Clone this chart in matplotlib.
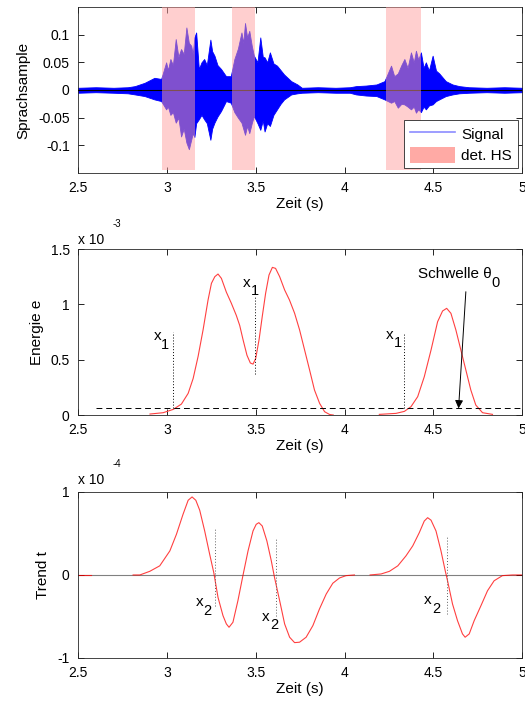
"""
Sprachsignal, Energie und Trend mit detektierten Bereichen (HS)
"""
import matplotlib
matplotlib.use("Agg")
import matplotlib.pyplot as plt
from matplotlib.lines import Line2D
from matplotlib.patches import Patch

plt.rcParams['font.family'] = ['Liberation Sans', 'DejaVu Sans']
plt.rcParams['mathtext.default'] = 'regular'

# Sprachsignal: obere / untere Einhuellende
sig_t = [2.50, 2.60, 2.70, 2.78, 2.82, 2.875, 2.93, 2.968, 2.996, 3.006, 3.02, 3.034,
         3.05, 3.065, 3.08, 3.095, 3.11, 3.124, 3.137, 3.146, 3.155, 3.165, 3.18, 3.195,
         3.21, 3.225, 3.245, 3.255, 3.268, 3.285, 3.305, 3.333, 3.36, 3.38, 3.40, 3.42,
         3.43, 3.44, 3.452, 3.464, 3.478, 3.49, 3.51, 3.526, 3.54, 3.55, 3.565, 3.58,
         3.60, 3.62, 3.64, 3.66, 3.70, 3.735, 3.76, 3.85, 3.95, 4.03, 4.065, 4.12,
         4.18, 4.225, 4.262, 4.28, 4.30, 4.32, 4.337, 4.355, 4.374, 4.39, 4.402, 4.415,
         4.43, 4.445, 4.458, 4.475, 4.496, 4.515, 4.533, 4.57, 4.608, 4.646, 4.70, 4.80,
         4.90, 5.00]
sig_hi = [0.004, 0.005, 0.004, 0.005, 0.007, 0.013, 0.022, 0.020, 0.050, 0.036, 0.056, 0.045,
          0.092, 0.060, 0.074, 0.065, 0.113, 0.085, 0.080, 0.065, 0.095, 0.104, 0.038, 0.050,
          0.056, 0.045, 0.091, 0.070, 0.062, 0.045, 0.038, 0.025, 0.025, 0.056, 0.075, 0.104,
          0.085, 0.121, 0.095, 0.107, 0.080, 0.062, 0.050, 0.095, 0.060, 0.059, 0.050, 0.068,
          0.048, 0.044, 0.036, 0.028, 0.016, 0.010, 0.004, 0.005, 0.004, 0.005, 0.007, 0.008,
          0.010, 0.016, 0.044, 0.025, 0.030, 0.045, 0.056, 0.040, 0.068, 0.050, 0.071, 0.055,
          0.068, 0.040, 0.050, 0.035, 0.062, 0.035, 0.030, 0.016, 0.010, 0.007, 0.005, 0.004,
          0.005, 0.004]
sig_lo = [-0.005, -0.004, -0.005, -0.006, -0.008, -0.011, -0.017, -0.020, -0.035, -0.030, -0.045, -0.040,
          -0.059, -0.050, -0.084, -0.070, -0.095, -0.107, -0.090, -0.078, -0.085, -0.060, -0.053, -0.045,
          -0.053, -0.060, -0.090, -0.070, -0.059, -0.048, -0.038, -0.020, -0.023, -0.040, -0.050, -0.059,
          -0.070, -0.081, -0.065, -0.078, -0.060, -0.047, -0.060, -0.072, -0.055, -0.075, -0.060, -0.065,
          -0.045, -0.035, -0.025, -0.017, -0.008, -0.006, -0.005, -0.004, -0.005, -0.005, -0.008, -0.010,
          -0.011, -0.017, -0.023, -0.020, -0.032, -0.025, -0.026, -0.030, -0.035, -0.030, -0.041, -0.035,
          -0.040, -0.030, -0.035, -0.028, -0.026, -0.020, -0.017, -0.011, -0.008, -0.006, -0.005, -0.004,
          -0.005, -0.004]

# detektierte HS-Bereiche (Start, Ende) in s
hs_start = [2.97, 3.369, 4.234]
hs_end = [3.157, 3.494, 4.43]

# Energie e (x 1e-3), zwei Abschnitte
e1_t = [2.905, 2.979, 3.036, 3.082, 3.12, 3.148, 3.176, 3.204, 3.232, 3.251, 3.27, 3.288,
        3.307, 3.335, 3.363, 3.391, 3.41, 3.429, 3.451, 3.47, 3.485, 3.50, 3.519, 3.537,
        3.556, 3.575, 3.594, 3.612, 3.635, 3.663, 3.69, 3.719, 3.747, 3.775, 3.803, 3.831,
        3.86, 3.888, 3.916, 3.937]
e1_v = [0.009, 0.021, 0.051, 0.099, 0.196, 0.33, 0.53, 0.77, 1.04, 1.19, 1.25, 1.274,
        1.235, 1.11, 1.01, 0.90, 0.81, 0.68, 0.54, 0.47, 0.46, 0.51, 0.68, 0.89,
        1.10, 1.265, 1.334, 1.325, 1.25, 1.13, 1.04, 0.92, 0.77, 0.59, 0.41, 0.226,
        0.105, 0.03, 0.005, 0.0]
e2_t = [4.196, 4.29, 4.337, 4.374, 4.412, 4.449, 4.487, 4.524, 4.552, 4.575, 4.599, 4.627,
        4.655, 4.683, 4.711, 4.739, 4.777, 4.833]
e2_v = [0.006, 0.015, 0.033, 0.075, 0.166, 0.346, 0.587, 0.843, 0.94, 0.964, 0.919, 0.768,
        0.587, 0.407, 0.226, 0.09, 0.021, 0.006]
schwelle = 0.06

# x1-Markierungen: Zeit, unten, oben
x1_t = [3.036, 3.494, 4.333]
x1_lo = [0.06, 0.37, 0.06]
x1_hi = [0.75, 1.07, 0.74]

# Trend t (x 1e-4), drei Abschnitte
t0_t = [2.5, 2.575]
t0_v = [0.0, 0.0]
t1_t = [2.81, 2.848, 2.904, 2.96, 3.017, 3.054, 3.091, 3.12, 3.142, 3.163, 3.185, 3.213,
        3.241, 3.264, 3.288, 3.316, 3.335, 3.35, 3.372, 3.40, 3.428, 3.457, 3.485, 3.503,
        3.518, 3.537, 3.563, 3.588, 3.606, 3.635, 3.663, 3.691, 3.719, 3.747, 3.784, 3.822,
        3.859, 3.897, 3.934, 3.972, 4.009, 4.056]
t1_v = [0.0, 0.0, 0.044, 0.11, 0.29, 0.49, 0.73, 0.90, 0.94, 0.90, 0.78, 0.53,
        0.25, 0.03, -0.27, -0.49, -0.59, -0.63, -0.57, -0.31, -0.01, 0.29, 0.53, 0.61,
        0.63, 0.59, 0.41, 0.17, -0.03, -0.31, -0.59, -0.75, -0.815, -0.81, -0.75, -0.61,
        -0.41, -0.23, -0.10, -0.036, -0.008, 0.0]
t2_t = [4.144, 4.206, 4.253, 4.30, 4.346, 4.384, 4.421, 4.449, 4.468, 4.487, 4.515, 4.543,
        4.567, 4.58, 4.608, 4.636, 4.664, 4.679, 4.702, 4.73, 4.768, 4.805, 4.842, 4.889,
        4.945, 5.0]
t2_v = [0.0, 0.012, 0.044, 0.11, 0.23, 0.35, 0.51, 0.65, 0.69, 0.66, 0.53, 0.29,
        0.05, -0.07, -0.35, -0.55, -0.71, -0.75, -0.71, -0.55, -0.37, -0.19, -0.07, -0.008,
        0.0, 0.0]

# x2-Markierungen
x2_t = [3.273, 3.616, 4.576]
x2_lo = [-0.37, -0.49, -0.47]
x2_hi = [0.57, 0.45, 0.47]

xticks = [2.5, 3, 3.5, 4, 4.5, 5]
xticklabels = ['2.5', '3', '3.5', '4', '4.5', '5']

AX_COLOR = '#262626'


def style_axes(ax):
    ax.set_xlim(2.5, 5)
    ax.set_xticks(xticks)
    ax.set_xticklabels(xticklabels)
    ax.tick_params(direction='in', length=4, width=0.6, top=True, right=True,
                   labelsize=10, colors='black', pad=6)
    for s in ax.spines.values():
        s.set_linewidth(0.6)
        s.set_color(AX_COLOR)
    ax.set_xlabel('Zeit (s)', fontsize=11, labelpad=1)


def sub_label(ax, x, y, base, sub):
    """MATLAB-artiger Index: base mit tief gestelltem sub"""
    t = ax.text(x, y, base, fontsize=11, va='baseline')
    ax.annotate(sub, xy=(1, 0), xycoords=t, xytext=(0.0, -4.2),
                textcoords='offset points', fontsize=10.5, va='baseline')


def main():
    fig = plt.figure(figsize=(5.25, 7.05), dpi=100)
    ax1 = fig.add_axes([0.1486, 0.7546, 0.846, 0.2355])
    ax2 = fig.add_axes([0.1486, 0.4113, 0.846, 0.2355])
    ax3 = fig.add_axes([0.1486, 0.0667, 0.846, 0.2355])

    # 1. Sprachsignal
    ax1.fill_between(sig_t, sig_lo, sig_hi, color='#0000ff', lw=0.6, zorder=2)
    ax1.axhline(0, color='black', lw=0.8, zorder=3)
    for a, b in zip(hs_start, hs_end):
        ax1.fill_between([a, b], -0.145, 0.15, color='#ffa1a1', alpha=0.5,
                         lw=0, zorder=4)
    style_axes(ax1)
    ax1.set_ylim(-0.15, 0.15)
    ax1.set_yticks([-0.1, -0.05, 0, 0.05, 0.1])
    ax1.set_yticklabels(['-0.1', '-0.05', '0', '0.05', '0.1'])
    ax1.set_ylabel('Sprachsample', fontsize=11, labelpad=5.5)
    handles = [Line2D([0], [0], color='#8c8cff', lw=1.2, label='Signal'),
               Patch(facecolor='#ffaaa5', edgecolor='none', label='det. HS')]
    leg = ax1.legend(handles=handles, loc='lower right', fontsize=11,
                     frameon=True, fancybox=False, framealpha=1,
                     borderaxespad=0.3, handlelength=3.0, handleheight=1.2,
                     borderpad=0.35, labelspacing=0.35, handletextpad=0.4)
    leg.get_frame().set_edgecolor(AX_COLOR)
    leg.get_frame().set_linewidth(0.6)
    leg.set_zorder(10)

    # 2. Energie
    ax2.plot(e1_t, e1_v, color='#ff4040', lw=0.8)
    ax2.plot(e2_t, e2_v, color='#ff4040', lw=0.8)
    ax2.plot([2.6, 5], [schwelle, schwelle], color='black', lw=0.7,
             dashes=(6, 4))
    for t, lo, hi in zip(x1_t, x1_lo, x1_hi):
        ax2.plot([t, t], [lo, hi], color='black', lw=0.7, ls=(0, (1, 2)))
    sub_label(ax2, 2.924, 0.68, 'x', '1')
    sub_label(ax2, 3.43, 1.16, 'x', '1')
    sub_label(ax2, 4.234, 0.69, 'x', '1')
    sub_label(ax2, 4.412, 1.235, 'Schwelle θ', '0')
    ax2.annotate('', xy=(4.642, schwelle), xytext=(4.683, 1.114),
                 arrowprops=dict(arrowstyle='-|>', color='black', lw=0.7,
                                 mutation_scale=12, shrinkA=0, shrinkB=0))
    style_axes(ax2)
    ax2.set_ylim(0, 1.5)
    ax2.set_yticks([0, 0.5, 1, 1.5])
    ax2.set_yticklabels(['0', '0.5', '1', '1.5'])
    ax2.set_ylabel('Energie e', fontsize=11, labelpad=4.5)
    ax2.text(0.0, 1.012, 'x 10', transform=ax2.transAxes, fontsize=10,
             ha='left', va='bottom')
    ax2.text(0.078, 1.12, '-3', transform=ax2.transAxes, fontsize=7,
             ha='left', va='bottom')

    # 3. Trend
    ax3.axhline(0, color='#808080', lw=0.8, zorder=1)
    for tt, vv in ((t0_t, t0_v), (t1_t, t1_v), (t2_t, t2_v)):
        ax3.plot(tt, vv, color='#ff0000', lw=0.8, alpha=0.75, zorder=2)
    for t, lo, hi in zip(x2_t, x2_lo, x2_hi):
        ax3.plot([t, t], [lo, hi], color='#606060', lw=0.7, ls=(0, (1, 2)))
    sub_label(ax3, 3.163, -0.37, 'x', '2')
    sub_label(ax3, 3.537, -0.55, 'x', '2')
    sub_label(ax3, 4.449, -0.35, 'x', '2')
    style_axes(ax3)
    ax3.set_ylim(-1, 1)
    ax3.set_yticks([-1, 0, 1])
    ax3.set_yticklabels(['-1', '0', '1'])
    ax3.set_ylabel('Trend t', fontsize=11, labelpad=5)
    ax3.text(0.0, 1.03, 'x 10', transform=ax3.transAxes, fontsize=10,
             ha='left', va='bottom')
    ax3.text(0.078, 1.14, '-4', transform=ax3.transAxes, fontsize=7,
             ha='left', va='bottom')

    fig.savefig('out.png', dpi=100)
    plt.close(fig)


if __name__ == "__main__":
    main()
